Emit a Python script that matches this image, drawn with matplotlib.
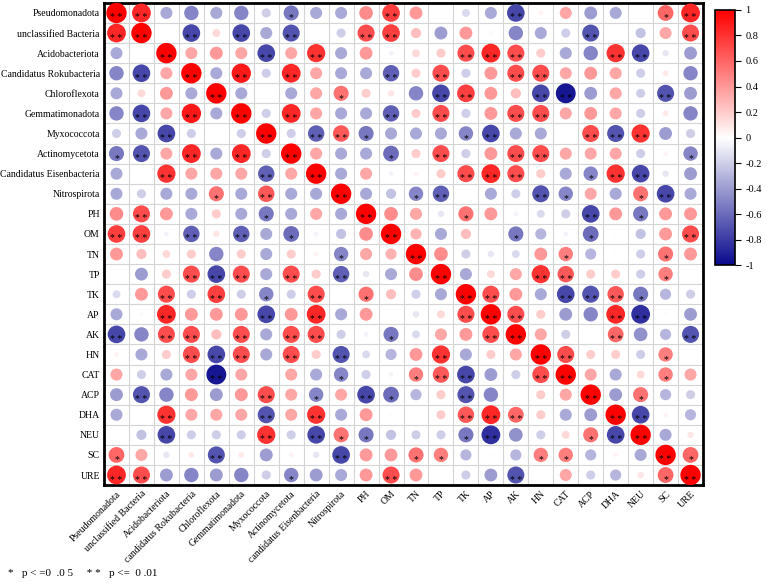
# Correlation circle plot: taxa vs soil properties / enzymes
import numpy as np
import matplotlib.pyplot as plt
from matplotlib.colors import LinearSegmentedColormap, Normalize
from matplotlib.cm import ScalarMappable

plt.rcParams['font.family'] = ['Liberation Serif', 'DejaVu Serif']

row_names = ['Pseudomonadota', 'unclassified Bacteria', 'Acidobacteriota',
             'Candidatus Rokubacteria', 'Chloroflexota', 'Gemmatimonadota',
             'Myxococcota', 'Actinomycetota', 'Candidatus Eisenbacteria',
             'Nitrospirota', 'PH', 'OM', 'TN', 'TP', 'TK', 'AP', 'AK', 'HN',
             'CAT', 'ACP', 'DHA', 'NEU', 'SC', 'URE']
col_names = ['Pseudomonadota', 'unclassified Bacteria', 'Acidobacteriota',
             'candidatus Rokubacteria', 'Chloroflexota', 'Gemmatimonadota',
             'Myxococcota', 'Actinomycetota', 'candidatus Eisenbacteria',
             'Nitrospirota', 'PH', 'OM', 'TN', 'TP', 'TK', 'AP', 'AK', 'HN',
             'CAT', 'ACP', 'DHA', 'NEU', 'SC', 'URE']

# upper triangle, row i holds columns i+1 .. 23
r_upper = [
    [0.85, -0.35, -0.5, -0.35, -0.5, -0.2, -0.55, -0.35, -0.35, 0.45, 0.75, 0.4, 0.0, -0.15, -0.35, -0.75, 0.05, 0.35, -0.4, -0.35, 0.0, 0.6, 0.85],
    [0.0, -0.75, 0.15, -0.75, -0.35, -0.7, 0.0, -0.2, 0.7, 0.75, 0.25, -0.4, 0.4, 0.03, -0.5, -0.35, -0.2, -0.7, 0.0, -0.25, 0.35, 0.7],
    [0.35, 0.4, 0.35, -0.75, 0.35, 0.8, -0.35, 0.4, -0.05, 0.15, 0.2, 0.7, 0.85, 0.7, 0.2, -0.35, -0.5, 0.8, -0.75, -0.1, -0.4],
    [-0.35, 0.9, -0.2, 0.85, 0.35, -0.35, -0.35, -0.65, 0.2, 0.7, -0.2, 0.4, 0.7, 0.7, 0.35, 0.4, 0.35, -0.2, 0.08, -0.5],
    [-0.35, 0.0, -0.35, 0.35, 0.55, 0.2, 0.1, -0.5, -0.75, 0.75, 0.4, 0.25, -0.75, -0.95, -0.4, 0.35, -0.2, -0.7, -0.4],
    [-0.2, 0.85, 0.35, -0.35, -0.35, -0.65, 0.2, 0.7, -0.2, 0.4, 0.7, 0.7, 0.35, 0.4, 0.35, -0.2, 0.08, -0.5],
    [-0.2, -0.65, 0.65, -0.55, -0.35, -0.35, -0.35, -0.5, -0.75, -0.35, -0.35, 0.0, 0.7, -0.7, 0.8, -0.4, -0.2],
    [0.35, -0.35, -0.35, -0.6, 0.2, 0.7, -0.2, 0.4, 0.7, 0.7, 0.35, 0.35, 0.35, -0.2, 0.05, -0.5],
    [-0.35, 0.35, -0.05, 0.05, 0.2, 0.7, 0.85, 0.7, 0.2, -0.35, -0.5, 0.8, -0.75, -0.1, -0.4],
    [-0.35, -0.25, -0.5, -0.65, 0.0, -0.35, -0.2, -0.7, -0.5, 0.35, -0.35, 0.55, -0.75, -0.35],
    [0.45, 0.35, -0.1, 0.55, 0.4, -0.05, -0.15, -0.2, -0.75, 0.4, -0.55, 0.4, 0.4],
    [0.3, -0.35, 0.25, 0.0, -0.55, -0.3, -0.05, -0.6, 0.02, -0.25, 0.4, 0.7],
    [0.45, -0.2, -0.1, -0.15, 0.4, 0.5, -0.3, 0.02, -0.2, 0.55, 0.4],
    [-0.35, 0.15, 0.35, 0.8, 0.65, 0.2, 0.2, -0.2, 0.5, 0.0],
    [0.7, 0.4, -0.35, -0.75, -0.7, 0.65, -0.55, -0.3, -0.2],
    [0.7, 0.2, -0.4, -0.5, 0.85, -0.85, 0.02, -0.4],
    [0.35, -0.2, 0.0, 0.6, -0.45, -0.3, -0.7],
    [0.7, 0.2, 0.2, -0.2, 0.5, 0.0],
    [0.35, -0.35, 0.15, 0.5, 0.35],
    [-0.4, 0.55, -0.3, -0.2],
    [-0.75, 0.05, -0.3],
    [-0.35, 0.1],
    [0.6],
]

# significance level: 0 none, 1 p<=0.05, 2 p<=0.01
p_upper = [
    [2, 0, 0, 0, 0, 0, 1, 0, 0, 0, 2, 0, 0, 0, 0, 2, 0, 0, 0, 0, 0, 1, 2],
    [0, 2, 0, 2, 0, 2, 0, 0, 2, 2, 0, 0, 0, 0, 0, 0, 0, 2, 0, 0, 0, 2],
    [0, 0, 0, 2, 0, 2, 0, 0, 0, 0, 0, 2, 2, 2, 0, 0, 0, 2, 2, 0, 0],
    [0, 2, 0, 2, 0, 0, 0, 2, 0, 2, 0, 0, 2, 2, 0, 0, 0, 0, 0, 0],
    [0, 0, 0, 0, 1, 0, 0, 0, 2, 2, 0, 0, 2, 2, 0, 0, 0, 2, 0],
    [0, 2, 0, 0, 0, 2, 0, 2, 0, 0, 2, 2, 0, 0, 0, 0, 0, 0],
    [0, 2, 2, 1, 0, 0, 0, 1, 2, 0, 0, 0, 2, 2, 2, 0, 0],
    [0, 0, 0, 1, 0, 2, 0, 0, 2, 2, 0, 0, 0, 0, 0, 1],
    [0, 0, 0, 0, 0, 2, 2, 2, 0, 0, 1, 2, 2, 0, 0],
    [0, 0, 1, 2, 0, 0, 0, 2, 1, 0, 0, 1, 2, 0],
    [0, 0, 0, 1, 0, 0, 0, 0, 2, 0, 1, 0, 0],
    [0, 0, 0, 0, 1, 0, 0, 1, 0, 0, 0, 2],
    [0, 0, 0, 0, 0, 1, 0, 0, 0, 1, 0],
    [0, 0, 0, 2, 2, 0, 0, 0, 1, 0],
    [2, 0, 0, 2, 2, 2, 1, 0, 0],
    [2, 0, 0, 0, 2, 2, 0, 0],
    [0, 0, 0, 2, 0, 0, 2],
    [2, 0, 0, 0, 1, 0],
    [0, 0, 0, 1, 0],
    [0, 1, 0, 0],
    [2, 0, 0],
    [0, 0],
    [1],
]

n = len(row_names)
R = np.eye(n)
P = np.full((n, n), 2)
for i in range(n - 1):
    for k, v in enumerate(r_upper[i]):
        j = i + 1 + k
        R[i, j] = R[j, i] = v
        P[i, j] = P[j, i] = p_upper[i][k]

cmap = LinearSegmentedColormap.from_list('bwr2', ['#0A0A8E', '#FFFFFF', '#FF0000'])
norm = Normalize(-1, 1)

fig = plt.figure(figsize=(7.67, 5.83), dpi=100)
ax = fig.add_axes([0.1356, 0.168, 0.781, 0.827])

yy, xx = np.meshgrid(np.arange(n), np.arange(n), indexing='ij')
vals = R.ravel()
ax.scatter(xx.ravel(), yy.ravel(), s=215 * np.abs(vals), c=vals, cmap=cmap,
           norm=norm, edgecolors='none', zorder=3)

for i in range(n):
    for j in range(n):
        if P[i, j] == 2:
            ax.text(j, i + 0.25, '* *', ha='center', va='center', fontsize=7, zorder=4)
        elif P[i, j] == 1:
            ax.text(j, i + 0.25, '*', ha='center', va='center', fontsize=7, zorder=4)

ax.set_xlim(-0.5, n - 0.5)
ax.set_ylim(n - 0.5, -0.5)
ax.set_xticks(np.arange(n))
ax.set_yticks(np.arange(n))
ax.set_xticklabels(col_names, rotation=45, ha='right', rotation_mode='anchor', fontsize=7)
ax.set_yticklabels(row_names, fontsize=7)
ax.set_xticks(np.arange(-0.5, n, 1), minor=True)
ax.set_yticks(np.arange(-0.5, n, 1), minor=True)
ax.grid(which='minor', color='#D4D4D4', linewidth=0.8)
ax.tick_params(which='both', length=0, pad=3)
for s in ax.spines.values():
    s.set_linewidth(2)

cax = fig.add_axes([0.932, 0.545, 0.026, 0.438])
cb = fig.colorbar(ScalarMappable(norm=norm, cmap=cmap), cax=cax)
cb.set_ticks(np.arange(-1, 1.01, 0.2))
cb.set_ticklabels(['-1', '-0.8', '-0.6', '-0.4', '-0.2', '0', '0.2', '0.4', '0.6', '0.8', '1'])
cax.tick_params(labelsize=7.5, length=4)
cb.outline.set_linewidth(1.2)

fig.text(0.01, 0.012, '*   p < =0  .0 5     * *   p <=  0 .01', fontsize=8)

fig.savefig('out.png', dpi=100)
